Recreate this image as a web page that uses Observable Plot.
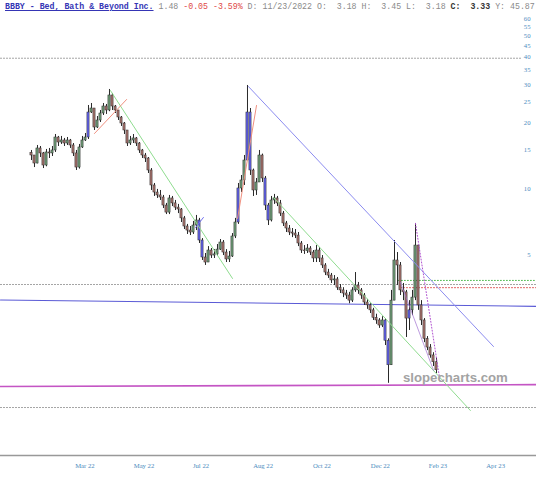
<!DOCTYPE html>
<html><head><meta charset="utf-8">
<script src="https://cdn.jsdelivr.net/npm/d3@7"></script>
<script src="https://cdn.jsdelivr.net/npm/@observablehq/plot@0.6"></script>
<style>
body{margin:0;background:#fff}
#wrap{position:relative;width:536px;height:480px;overflow:hidden;background:#fff}
#hdr{position:absolute;left:5px;top:1px;font:8.25px "Liberation Mono",monospace;line-height:11px;white-space:pre;color:#888}
#wm{position:absolute;left:403px;top:370px;font:bold 13.2px "Liberation Sans",Arial,sans-serif;color:#a3a3a3;white-space:pre}
</style>
</head><body><div id="wrap"></div>
<script>
// ---- data (candle index = trading-session step) ----
const opens = [
14.60,14.19,13.04,15.28,14.50,12.77,14.65,14.50,14.96,17.15,
16.27,16.62,16.10,16.62,15.77,14.50,12.50,15.44,16.62,17.15,
22.31,23.27,19.05,20.51,22.08,23.77,22.79,26.69,23.77,22.79,
21.17,19.87,18.46,16.10,16.62,16.98,16.10,14.96,14.19,13.75,
12.12,10.35,9.61,9.32,9.12,8.38,7.78,9.03,8.57,8.20,
8.04,7.32,6.72,6.44,6.31,6.79,7.16,5.80,4.85,4.60,
5.22,4.95,5.01,5.27,5.68,5.11,4.75,4.90,6.05,7.01,
10.03,10.91,13.46,22.31,12.12,9.82,10.68,14.19,11.14,8.38,
7.16,8.84,9.03,8.57,7.70,6.94,6.58,6.31,6.24,6.11,
5.62,5.22,5.18,5.33,5.11,4.80,5.22,4.80,4.46,4.14,
4.01,3.81,3.85,3.53,3.43,3.32,3.25,3.08,3.43,3.61,
3.43,3.25,3.02,2.93,2.78,2.57,2.50,2.37,2.50,2.02,
1.56,3.08,4.70,4.46,3.43,3.36,2.55,2.78,3.18,5.50,
2.93,2.50,2.06,1.88,1.73,1.61];
const highs = [
14.96,14.19,15.77,15.60,14.65,15.12,15.28,15.60,17.70,17.34,
17.34,16.98,17.15,16.80,16.10,14.96,15.94,17.34,17.89,24.02,
24.53,23.27,21.39,22.79,24.53,24.28,28.43,27.26,24.02,22.79,
21.39,20.08,18.46,17.34,17.70,17.15,16.27,15.12,14.50,13.89,
12.37,10.57,9.93,9.82,9.32,8.57,9.32,9.22,8.84,8.48,
8.12,7.47,6.87,6.72,7.09,7.55,7.32,5.92,5.06,5.44,
5.33,5.27,5.56,5.86,5.80,5.27,5.17,6.24,7.32,10.57,
11.50,14.19,29.65,23.27,12.30,11.14,14.96,14.40,11.38,8.57,
9.22,9.42,9.22,8.84,7.87,7.09,6.79,6.58,6.51,6.31,
5.74,5.50,5.56,5.44,5.22,5.50,5.39,4.95,4.55,4.28,
4.10,4.01,3.93,3.65,3.53,3.43,3.36,3.53,4.14,3.73,
3.50,3.32,3.12,2.98,2.84,2.67,2.55,2.60,2.55,2.06,
3.43,5.80,5.11,4.60,3.69,3.43,3.08,3.43,6.94,5.50,
3.08,2.55,2.11,1.94,1.78,1.68];
const lows = [
13.46,12.50,13.00,13.89,12.37,12.60,13.75,14.04,14.65,15.60,
15.94,15.60,15.77,15.28,14.04,12.12,12.30,15.28,16.45,16.80,
22.08,18.46,18.86,20.08,21.62,21.86,22.50,22.79,22.08,20.51,
19.26,17.70,15.60,15.77,16.10,15.60,14.50,13.75,13.18,11.74,
9.82,9.22,9.03,8.84,8.12,7.62,7.62,8.29,7.95,7.70,
7.01,6.51,6.18,6.11,6.18,6.44,5.62,4.70,4.46,4.60,
4.80,4.80,4.90,5.22,4.95,4.60,4.60,4.85,5.92,6.87,
9.61,10.35,13.46,11.50,9.22,9.32,10.68,10.68,7.95,6.79,
7.05,8.48,8.29,7.47,6.72,6.31,6.11,5.98,5.92,5.44,
5.06,5.01,5.06,4.95,4.60,4.60,4.60,4.32,4.01,3.89,
3.69,3.61,3.43,3.32,3.18,3.12,2.98,3.02,3.36,3.29,
3.12,2.93,2.81,2.69,2.50,2.40,2.30,2.32,1.92,1.29,
1.56,3.08,3.61,3.25,3.08,2.09,2.25,2.63,3.08,2.78,
2.37,1.98,1.82,1.68,1.54,1.43];
const closes = [
14.19,13.04,15.28,14.50,12.77,14.65,14.50,14.96,17.15,16.27,
16.62,16.10,16.62,15.77,14.50,12.50,15.44,16.62,17.15,22.31,
23.27,19.05,20.51,22.08,23.77,22.79,26.69,23.77,22.79,21.17,
19.87,18.46,16.10,16.62,16.98,16.10,14.96,14.19,13.75,12.12,
10.35,9.61,9.32,9.12,8.38,7.78,9.03,8.57,8.20,8.04,
7.32,6.72,6.44,6.31,6.79,7.16,5.80,4.85,4.60,5.22,
4.95,5.01,5.27,5.68,5.11,4.75,4.90,6.05,7.01,10.03,
10.91,13.46,22.31,12.12,9.82,10.68,14.19,11.14,8.38,7.16,
8.84,9.03,8.57,7.70,6.94,6.58,6.31,6.24,6.11,5.62,
5.22,5.18,5.33,5.11,4.80,5.22,4.80,4.46,4.14,4.01,
3.81,3.85,3.53,3.43,3.32,3.25,3.08,3.43,3.61,3.43,
3.25,3.02,2.93,2.78,2.57,2.50,2.37,2.50,2.02,1.56,
3.08,4.70,4.46,3.43,3.36,2.55,2.78,3.18,5.50,2.93,
2.50,2.06,1.88,1.73,1.61,1.48];
const blueCandles = [19, 56, 57, 69, 72, 73, 78, 79, 118, 119, 126];

const yTicks = [5, 10, 15, 20, 25, 30, 35, 40, 45, 50, 55, 60];
const xTickPos = [17.8, 37.5, 56.5, 77.2, 96.8, 116.3, 135.5, 154.7];
const xTickLabels = ["Mar 22", "May 22", "Jul 22", "Aug 22", "Oct 22", "Dec 22", "Feb 23", "Apr 23"];

// drawn studies: [candle index, price] end points
const greenTrendA = [[26.3, 28.13], [67.0, 3.89]];
const greenTrendB = [[80.7, 9.12], [146.3, 0.969]];
const blueTrendLong = [[72.3, 29.34], [154.0, 1.90]];
const blueTrendShort = [[54.7, 6.65], [57.3, 7.39]];
const redTrendA = [[21.0, 17.89], [31.7, 25.59]];
const redTrendB = [[68.7, 7.32], [75.0, 24.02]];
const purpleDotted = [[128.0, 6.94], [136.3, 1.29]];
const purpleThin = [[123.0, 3.73], [134.0, 1.48]];
const blueLevel = [[-10.33, 3.10], [168.33, 2.90]];
const magentaLevel = [[-10.33, 1.247], [168.33, 1.273]];
const grayLevel40 = [[-10.33, 39.5], [163.3, 39.5]];
const grayLevelMid = [[-10.33, 3.65], [168.33, 3.65]];
const grayLevel1 = [[-10.33, 1.0], [168.33, 1.0]];
const greenLevel = [[122.3, 3.81], [168.33, 3.81]];
const redLevel = [[123.0, 3.53], [168.33, 3.53]];

// ---- build ----
const candles = closes.map((c, i) => ({i, o: opens[i], h: highs[i], l: lows[i], c,
  kind: blueCandles.includes(i) ? "blue" : (c >= opens[i] ? "up" : "down")}));
const bodyFill = {blue: "#6262ec", up: "#6e9c76", down: "#a4706a"};
const pts = a => a.map(([x, y]) => ({x, y}));
const seg = (a, opts) => Plot.line(pts(a), {x: "x", y: "y", ...opts});
const xTicks = xTickPos.map((p, k) => ({p, label: xTickLabels[k]}));
const tickFont = "Liberation Serif, DejaVu Serif, serif";
const tickColor = "#4b8bbe";

const chart = Plot.plot({
  width: 536, height: 480,
  marginLeft: 0, marginRight: 0, marginTop: 9, marginBottom: 25,
  x: {type: "linear", domain: [-10.333, 168.333], axis: null},
  y: {type: "log", domain: [0.6035, 65.97], axis: null},
  style: {background: "#fff"},
  marks: [
    seg(grayLevel40, {stroke: "#9a9a9a", strokeWidth: 1, strokeDasharray: "1,2"}),
    seg(grayLevelMid, {stroke: "#9a9a9a", strokeWidth: 1, strokeDasharray: "1,2"}),
    seg(grayLevel1, {stroke: "#9a9a9a", strokeWidth: 1, strokeDasharray: "1,2"}),
    seg(greenLevel, {stroke: "#55bb55", strokeWidth: 1, strokeDasharray: "1,2"}),
    seg(redLevel, {stroke: "#dd5555", strokeWidth: 1, strokeDasharray: "1,2"}),
    seg(blueLevel, {stroke: "#5b5bd6", strokeWidth: 1.1}),
    seg(magentaLevel, {stroke: "#c455c4", strokeWidth: 1.6}),
    Plot.ruleX(candles, {x: "i", y1: "l", y2: "h", stroke: "#2a2a2a", strokeWidth: 1}),
    Plot.rect(candles, {x1: d => d.i - 0.36, x2: d => d.i + 0.36, y1: "o", y2: "c",
      fill: d => bodyFill[d.kind], stroke: "#2a2a2a", strokeWidth: 0.5}),
    seg(greenTrendA, {stroke: "#8fdc8f", strokeWidth: 1}),
    seg(greenTrendB, {stroke: "#8fdc8f", strokeWidth: 1}),
    seg(blueTrendLong, {stroke: "#8c8cf0", strokeWidth: 1}),
    seg(blueTrendShort, {stroke: "#7070f0", strokeWidth: 1}),
    seg(redTrendA, {stroke: "#f0907f", strokeWidth: 1}),
    seg(redTrendB, {stroke: "#f0907f", strokeWidth: 1}),
    seg(purpleDotted, {stroke: "#b050d0", strokeWidth: 1, strokeDasharray: "1,2"}),
    seg(purpleThin, {stroke: "#a070d0", strokeWidth: 0.7}),
    Plot.frame({anchor: "bottom", stroke: "#999", strokeWidth: 1.6}),
    Plot.text(yTicks, {y: d => d, text: d => String(d), frameAnchor: "right", dx: -6,
      textAnchor: "end", fontSize: 6.7, fill: tickColor, fontFamily: tickFont}),
    Plot.text(xTicks, {x: "p", text: "label", frameAnchor: "bottom", dy: 12,
      fontSize: 6.7, fill: tickColor, fontFamily: tickFont})
  ]
});

const wrap = document.getElementById("wrap");
wrap.appendChild(chart);
const hdr = document.createElement("div");
hdr.id = "hdr";
hdr.innerHTML = '<span style="color:#3535b5;font-weight:bold;text-decoration:underline">BBBY - Bed, Bath &amp; Beyond Inc.</span> ' +
  '<span style="color:#8a8a8a">1.48</span> <span style="color:#e04848">-0.05 -3.59%</span>' +
  '<span style="color:#8a8a8a"> D: 11/23/2022 O:  3.18 H:  3.45 L:  3.18 </span>' +
  '<b style="color:#333">C:  3.33</b><span style="color:#8a8a8a"> Y: 45.87</span>';
wrap.appendChild(hdr);
const wm = document.createElement("div");
wm.id = "wm";
wm.textContent = "slopecharts.com";
wrap.appendChild(wm);
</script>
</body></html>
